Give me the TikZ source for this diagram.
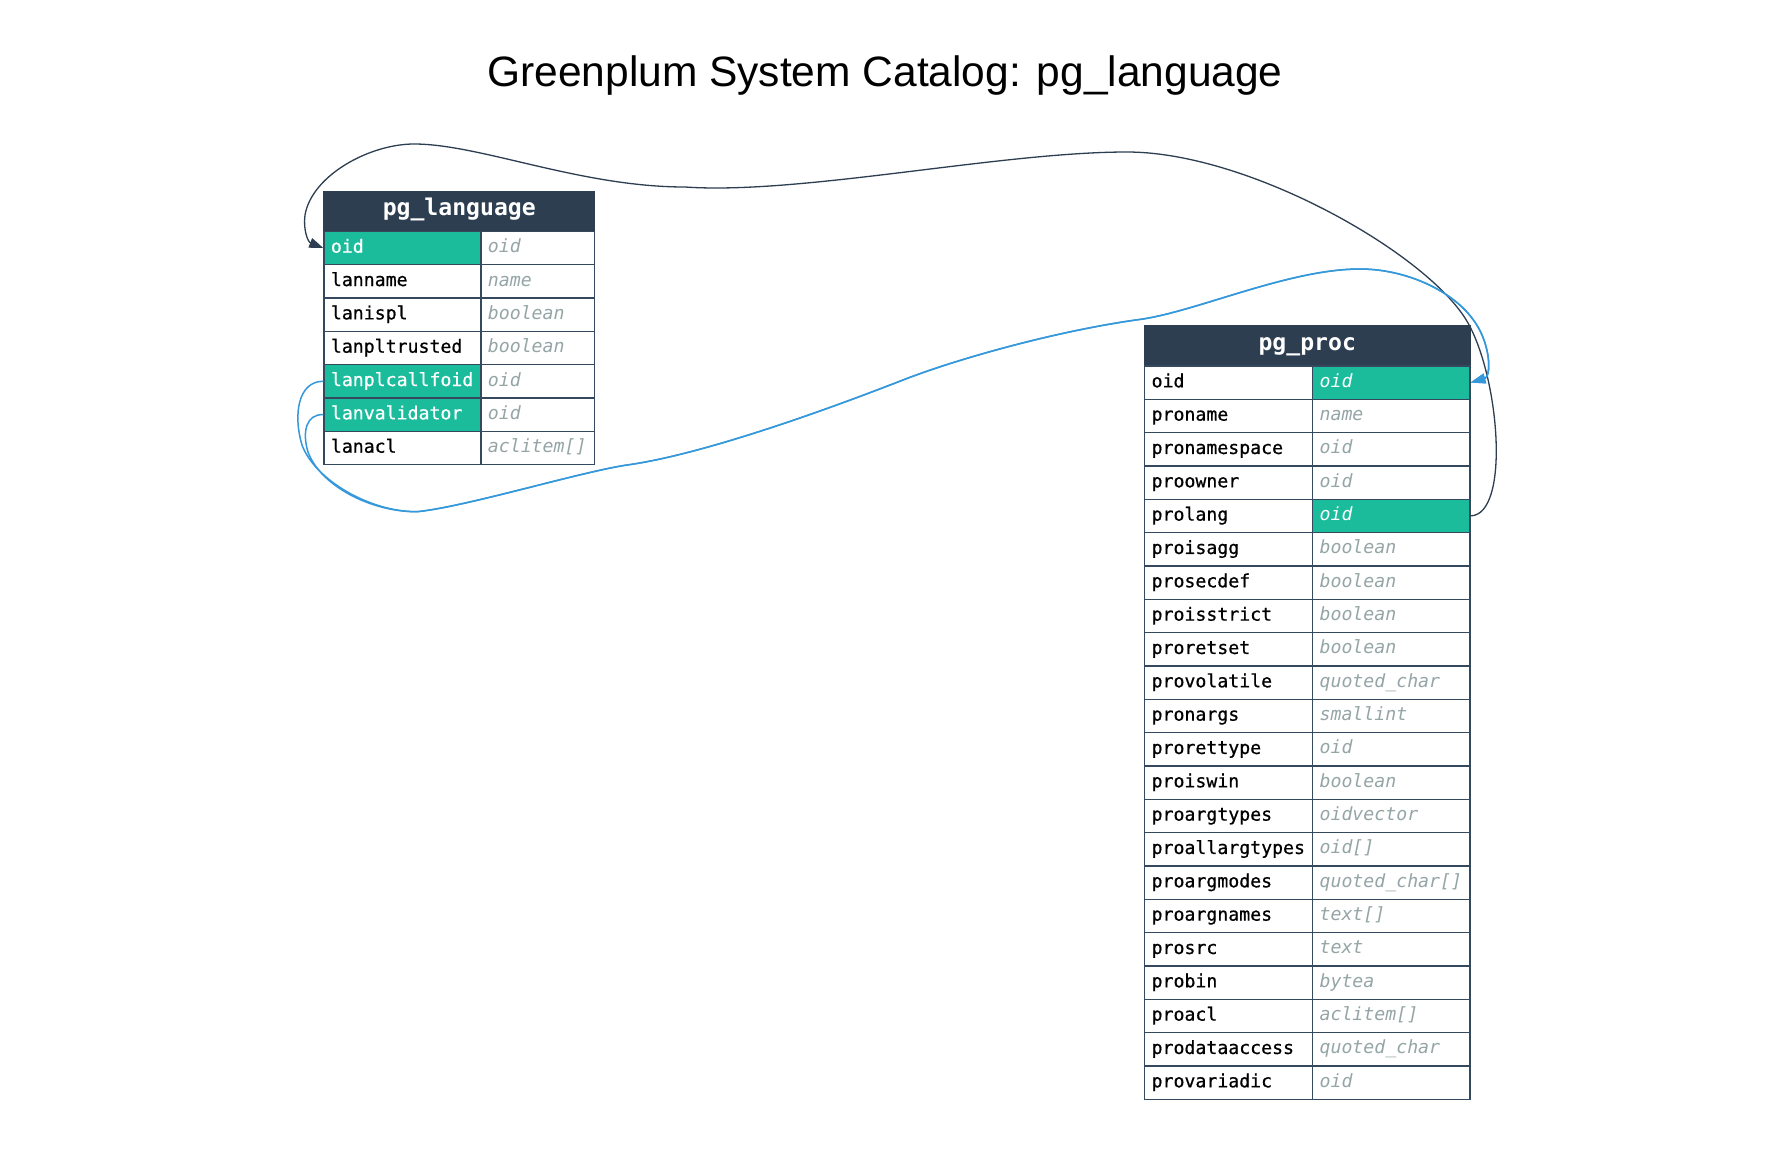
\documentclass[tikz,border=0pt]{standalone}
\usepackage{fontspec}
\setmainfont{Liberation Sans}
\newfontfamily\dmono{DejaVu Sans Mono}
\newfontfamily\dmonomid[FakeBold=0.7]{DejaVu Sans Mono}
\usetikzlibrary{arrows.meta}
\definecolor{hdr}{HTML}{2C3E50}
\definecolor{hl}{HTML}{1ABC9C}
\definecolor{typegray}{HTML}{95A5A6}
\definecolor{fkblue}{HTML}{3498DB}
\definecolor{gridc}{HTML}{34495E}
\tikzset{
  cellbase/.style={rectangle, draw=gridc, line width=1.2pt, anchor=north west,
    inner xsep=7pt, inner ysep=0pt, minimum height=33.333pt,
    text height=13.5pt, text depth=4pt, align=left},
  ncell0/.style={cellbase, fill=white, text=black, font=\dmonomid\fontsize{18.2}{20}\selectfont},
  ncell1/.style={cellbase, fill=hl, text=white, font=\dmonomid\fontsize{18.2}{20}\selectfont},
  ncell2/.style={ncell0},
  tcell0/.style={cellbase, fill=white, text=typegray, font=\dmono\itshape\fontsize{18.2}{20}\selectfont},
  tcell1/.style={tcell0},
  tcell2/.style={cellbase, fill=hl, text=white, font=\dmono\itshape\fontsize{18.2}{20}\selectfont},
  hdrcell/.style={rectangle, draw=hdr, fill=hdr, line width=1.2pt, anchor=north west,
    inner sep=0pt, minimum height=40pt, text height=15pt, text depth=6pt,
    text=white, font=\dmono\bfseries\fontsize{23.1}{26}\selectfont},
  fkdark/.style={draw=hdr, line width=1.3pt, -{Triangle[length=14pt,width=10pt]}},
  fkblueline/.style={draw=fkblue, line width=1.5pt, -{Triangle[length=15pt,width=10pt]}},
}
\begin{document}
\begin{tikzpicture}[x=1pt,y=-1pt]
\path[fill=white] (0,0) rectangle (1765,1173);

\node[font=\fontsize{42.5}{50}\selectfont, anchor=base] (title) at (885,86) {Greenplum System Catalog: pg\_language};

% pg_language table
\node[hdrcell, minimum width=270.7pt] (lang-h) at (323.3,190.7) {pg\_language};
\foreach \fn/\ft/\fh [count=\i from 0] in {
  oid/oid/1, lanname/name/0, lanispl/boolean/0, lanpltrusted/boolean/0,
  lanplcallfoid/oid/1, lanvalidator/oid/1, lanacl/aclitem[]/0}{
  \node[ncell\fh, text width=143pt] (lang-n\i) at (323.3,{230.7+\i*33.333}) {\fn};
  \node[tcell\fh, text width=99.7pt] (lang-t\i) at (480.3,{230.7+\i*33.333}) {\ft};
}

% pg_proc table
\node[hdrcell, minimum width=325.3pt] (proc-h) at (1144,325.3) {pg\_proc};
\foreach \fn/\ft/\fh [count=\i from 0] in {
  oid/oid/2, proname/name/0, pronamespace/oid/0, proowner/oid/0, prolang/oid/2,
  proisagg/boolean/0, prosecdef/boolean/0, proisstrict/boolean/0, proretset/boolean/0,
  provolatile/quoted\_char/0, pronargs/smallint/0, prorettype/oid/0, proiswin/boolean/0,
  proargtypes/oidvector/0, proallargtypes/oid[]/0, proargmodes/quoted\_char[]/0,
  proargnames/text[]/0, prosrc/text/0, probin/bytea/0, proacl/aclitem[]/0,
  prodataaccess/quoted\_char/0, provariadic/oid/0}{
  \node[ncell\fh, text width=154pt] (proc-n\i) at (1144,{365.3+\i*33.333}) {\fn};
  \node[tcell\fh, text width=143.3pt] (proc-t\i) at (1312,{365.3+\i*33.333}) {\ft};
}

% pg_proc.prolang -> pg_language.oid
\draw[fkdark] (proc-t4.east)
  .. controls (1510,515) and (1500,380) .. (1468,323)
  .. controls (1430,255) and (1250,152) .. (1127,152)
  .. controls (1000,152) and (800,195) .. (685,187)
  .. controls (580,187) and (480,144) .. (414,144)
  .. controls (370,144) and (312,175) .. (305,215)
  .. controls (303,230) and (308,242) .. (lang-n0.west);

% pg_language.lanplcallfoid -> pg_proc.oid
\draw[fkblueline] (lang-n4.west)
  .. controls (298,381) and (293,415) .. (302,445)
  .. controls (315,480) and (370,512) .. (417,511.7)
  .. controls (465,507) and (580,472) .. (627,465)
  .. controls (700,455) and (820,412.4) .. (903,380)
  .. controls (958,358.5) and (1060,330) .. (1143,319)
  .. controls (1200,310) and (1290,269) .. (1360,269)
  .. controls (1410,269) and (1465,295) .. (1482,335)
  .. controls (1491,356) and (1490,377) .. (proc-t0.east);

% pg_language.lanvalidator -> pg_proc.oid
\draw[fkblueline] (lang-n5.west)
  .. controls (306,414) and (302,432) .. (308,452)
  .. controls (320,485) and (370,512) .. (417,511.7)
  .. controls (465,507) and (580,472) .. (627,465)
  .. controls (700,455) and (820,412.4) .. (903,380)
  .. controls (958,358.5) and (1060,330) .. (1143,319)
  .. controls (1200,310) and (1290,269) .. (1360,269)
  .. controls (1410,269) and (1465,295) .. (1482,335)
  .. controls (1491,356) and (1490,377) .. (proc-t0.east);
\end{tikzpicture}
\end{document}
